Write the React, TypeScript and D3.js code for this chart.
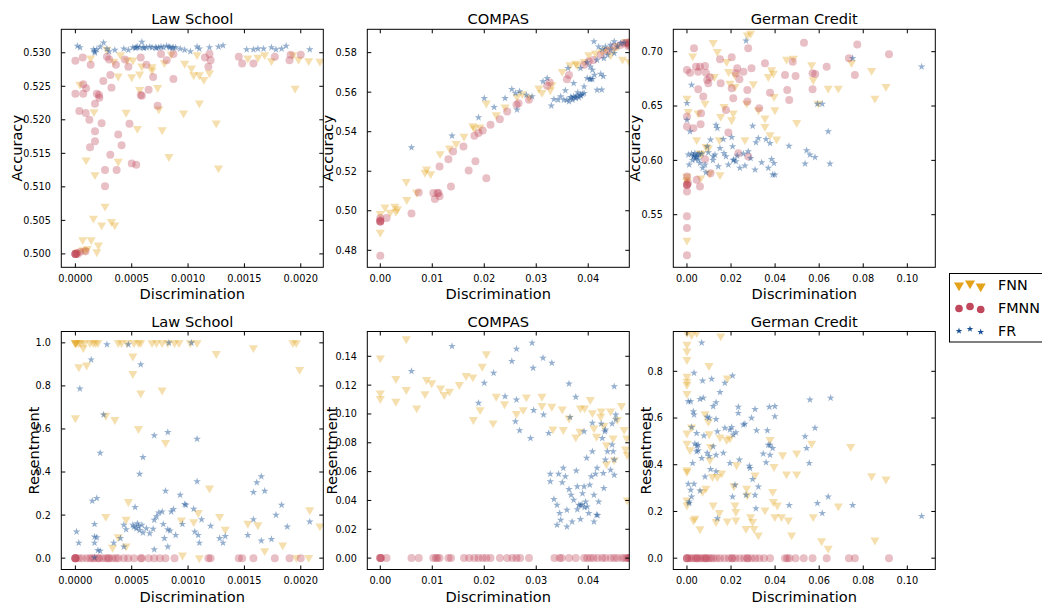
import React from 'react';
import * as d3 from 'd3';

type Pt = [number, number];

// ---------- tick values ----------
const lawXTicks = [0, 0.0005, 0.001, 0.0015, 0.002];
const compasXTicks = [0, 0.01, 0.02, 0.03, 0.04];
const germanXTicks = [0, 0.02, 0.04, 0.06, 0.08, 0.1];
const lawAccYTicks = [0.5, 0.505, 0.51, 0.515, 0.52, 0.525, 0.53];
const compasAccYTicks = [0.48, 0.5, 0.52, 0.54, 0.56, 0.58];
const germanAccYTicks = [0.55, 0.6, 0.65, 0.7];
const lawResYTicks = [0, 0.2, 0.4, 0.6, 0.8, 1.0];
const compasResYTicks = [0, 0.02, 0.04, 0.06, 0.08, 0.1, 0.12, 0.14];
const germanResYTicks = [0, 0.2, 0.4, 0.6, 0.8];

const titles = ['Law School', 'COMPAS', 'German Credit'];
const legendLabels = ['FNN', 'FMNN', 'FR'];

// ---------- Law School: accuracy ----------
const lawAccFNN: Pt[] = [
  [0.000136, 0.5292], [0.00004, 0.5253], [0.000065, 0.5021], [0.00007, 0.5006], [0.000095, 0.514], [0.000106, 0.5008],
  [0.00014, 0.5021], [0.00016, 0.5053], [0.000174, 0.5118], [0.000165, 0.5212], [0.000204, 0.5013], [0.00019, 0.5003],
  [0.000233, 0.5043], [0.000263, 0.5071], [0.00028, 0.5305], [0.00032, 0.5048], [0.00035, 0.5043], [0.00034, 0.5287],
  [0.00038, 0.5138], [0.00038, 0.5265], [0.0004, 0.5297], [0.00045, 0.5211], [0.00046, 0.5289], [0.0005, 0.5264],
  [0.00051, 0.5289], [0.00055, 0.5187], [0.00057, 0.5245], [0.00057, 0.5268], [0.00059, 0.528], [0.00068, 0.5279],
  [0.00068, 0.5274], [0.00073, 0.5248], [0.00074, 0.5216], [0.00077, 0.5185], [0.00079, 0.5285], [0.00083, 0.5145],
  [0.00085, 0.5298], [0.00096, 0.521], [0.00097, 0.5284], [0.00103, 0.5277], [0.00105, 0.5267], [0.00108, 0.5297],
  [0.0011, 0.5267], [0.0011, 0.5225], [0.00114, 0.526], [0.00119, 0.527], [0.00125, 0.5195], [0.00127, 0.5128],
  [0.00153, 0.5292], [0.00162, 0.5293], [0.00168, 0.5297], [0.00174, 0.5288], [0.00193, 0.5297], [0.00195, 0.5247],
  [0.00198, 0.529], [0.00207, 0.5288], [0.00217, 0.5287], [0.00001, 0.5001], [0.00003, 0.5003], [0.00009, 0.5005],
];
const lawAccFMNN: Pt[] = [
  [0, 0.5288], [0, 0.5239], [0, 0.5], [0, 0.5], [0, 0.5], [0, 0.5], [0.00001, 0.5001], [0.00002, 0.5],
  [0.000065, 0.5293], [0.000035, 0.5213], [0.00007, 0.5253], [0.00007, 0.5239], [0.000095, 0.5247], [0.000092, 0.521],
  [0.000124, 0.52], [0.000136, 0.5282], [0.00013, 0.5159], [0.000174, 0.5224], [0.000174, 0.5183], [0.000174, 0.5168],
  [0.00019, 0.5239], [0.00021, 0.5237], [0.000213, 0.5233], [0.000233, 0.5195], [0.000248, 0.5258], [0.000263, 0.5125],
  [0.000263, 0.5101], [0.00028, 0.5294], [0.0003, 0.529], [0.00031, 0.5267], [0.00031, 0.5148], [0.00032, 0.5248],
  [0.00036, 0.5282], [0.000366, 0.5125], [0.00038, 0.5178], [0.00041, 0.5162], [0.00044, 0.529], [0.00047, 0.5279],
  [0.00048, 0.5194], [0.0005, 0.5135], [0.00054, 0.5133], [0.00058, 0.5293], [0.00058, 0.5237], [0.00059, 0.5236],
  [0.00063, 0.5282], [0.00065, 0.5245], [0.00069, 0.5264], [0.00073, 0.5221], [0.00076, 0.5298], [0.00081, 0.5289],
  [0.00087, 0.5298], [0.00087, 0.5261], [0.00115, 0.5293], [0.00118, 0.5279], [0.00119, 0.5298], [0.0012, 0.5289],
  [0.00145, 0.5294], [0.00148, 0.5284], [0.00158, 0.5284], [0.00177, 0.5294], [0.0019, 0.5289], [0.00191, 0.5297],
  [0.002, 0.5297], [0.00004, 0.5003], [0.00009, 0.5004],
];
const lawAccFR: Pt[] = [
  [0.0000178, 0.531], [0.0000414, 0.5308], [0.00016, 0.5305], [0.000174, 0.53], [0.00019, 0.5305], [0.00022, 0.5309],
  [0.00025, 0.5315], [0.00028, 0.5306], [0.00035, 0.5304], [0.00043, 0.5306], [0.00047, 0.5304], [0.00051, 0.5308],
  [0.00054, 0.5308], [0.00057, 0.5308], [0.00059, 0.5316], [0.0006, 0.5308], [0.00063, 0.5308], [0.00068, 0.5308],
  [0.00071, 0.5308], [0.00074, 0.5308], [0.00078, 0.5308], [0.00081, 0.531], [0.00084, 0.5308], [0.00087, 0.5308],
  [0.00093, 0.5306], [0.00097, 0.5304], [0.00102, 0.5302], [0.00108, 0.5309], [0.0011, 0.5306], [0.00119, 0.5308],
  [0.00127, 0.5309], [0.00131, 0.5311], [0.00152, 0.5305], [0.00158, 0.5305], [0.00162, 0.5306], [0.00167, 0.5306],
  [0.00174, 0.5308], [0.00178, 0.5305], [0.00183, 0.5306], [0.00187, 0.531], [0.00208, 0.5305],
  [0.00053, 0.5307], [0.00055, 0.5309], [0.00061, 0.5307], [0.00066, 0.5309], [0.00072, 0.5307], [0.00076, 0.5309],
  [0.00083, 0.5309], [0.00086, 0.5307], [0.00089, 0.5308], [0.0003, 0.5302], [0.00017, 0.5302],
];

// ---------- COMPAS: accuracy ----------
const compasAccFNN: Pt[] = [
  [0, 0.4986], [0, 0.4891], [0.0019, 0.4992], [0.0009, 0.5019], [0.0028, 0.5022], [0.003, 0.4997], [0.0033, 0.5009],
  [0.005, 0.5148], [0.0051, 0.5056], [0.007, 0.5093], [0.0086, 0.5194], [0.0089, 0.5211], [0.0097, 0.5187],
  [0.0115, 0.5288], [0.0133, 0.5317], [0.0146, 0.5339], [0.0161, 0.5376], [0.0178, 0.543], [0.0181, 0.5418],
  [0.0192, 0.5423], [0.0204, 0.5544], [0.0223, 0.5485], [0.024, 0.5524], [0.0263, 0.5578], [0.0273, 0.5591],
  [0.0286, 0.5574], [0.0305, 0.562], [0.0311, 0.5598], [0.0327, 0.5611], [0.033, 0.5637], [0.035, 0.5704],
  [0.0365, 0.5738], [0.0376, 0.5746], [0.0379, 0.5738], [0.0392, 0.5755], [0.0401, 0.5788], [0.0414, 0.5797],
  [0.0427, 0.5805], [0.0435, 0.5817], [0.0443, 0.5788], [0.045, 0.5817], [0.0457, 0.5834], [0.0466, 0.5766],
  [0.0472, 0.5856], [0.0479, 0.5755],
];
const compasAccFMNN: Pt[] = [
  [0, 0.4946], [0, 0.4946], [0, 0.4946], [0, 0.4952], [0, 0.4963], [0.0012, 0.4963], [0, 0.4773], [0.006, 0.4986],
  [0.0074, 0.5092], [0.0102, 0.509], [0.0105, 0.5059], [0.011, 0.509], [0.0112, 0.509], [0.0114, 0.5073],
  [0.0114, 0.5224], [0.0131, 0.5261], [0.0136, 0.5123], [0.014, 0.53], [0.016, 0.5325], [0.017, 0.5204],
  [0.0181, 0.5379], [0.0183, 0.525], [0.0189, 0.5393], [0.0197, 0.5406], [0.0204, 0.5165], [0.0212, 0.5435],
  [0.023, 0.5463], [0.0244, 0.5502], [0.0262, 0.5536], [0.0266, 0.5544], [0.0286, 0.5561], [0.0321, 0.5632],
  [0.0326, 0.5649], [0.0359, 0.5665], [0.0363, 0.5687], [0.0392, 0.5738], [0.0401, 0.5755], [0.041, 0.5763],
  [0.0424, 0.5788], [0.0437, 0.581], [0.045, 0.583], [0.0462, 0.5839], [0.0469, 0.5847], [0.0474, 0.585],
  [0.0477, 0.5834], [0.0478, 0.5845], [0.0479, 0.5852], [0.0479, 0.5838],
];
const compasAccFR: Pt[] = [
  [0.006, 0.532], [0.0138, 0.5379], [0.0189, 0.5472], [0.02, 0.5569], [0.0219, 0.5524], [0.024, 0.5569],
  [0.0253, 0.5615], [0.026, 0.5595], [0.0263, 0.5511], [0.0268, 0.5603], [0.0281, 0.5586], [0.0292, 0.5578],
  [0.0313, 0.5654], [0.0321, 0.567], [0.0329, 0.5531], [0.0334, 0.5564], [0.0342, 0.5561], [0.0347, 0.5578],
  [0.0356, 0.5608], [0.0359, 0.5561], [0.0366, 0.5574], [0.0372, 0.5578], [0.0379, 0.5581], [0.0385, 0.5586],
  [0.0392, 0.5595], [0.0361, 0.5721], [0.0372, 0.5645], [0.0385, 0.5721], [0.0398, 0.575], [0.0398, 0.567],
  [0.0403, 0.5665], [0.0408, 0.5665], [0.0405, 0.5667], [0.0412, 0.5687], [0.0417, 0.5611], [0.0424, 0.5692],
  [0.0429, 0.568], [0.0426, 0.5612], [0.0411, 0.5856], [0.042, 0.583], [0.0427, 0.5817], [0.0433, 0.583],
  [0.0443, 0.5839], [0.045, 0.5856], [0.0456, 0.583], [0.0462, 0.5847], [0.0469, 0.585], [0.0443, 0.5814],
  [0.045, 0.5797], [0.0437, 0.5788], [0.043, 0.5771], [0.0417, 0.5763], [0.0404, 0.5729], [0.0408, 0.5712],
  [0.0392, 0.5628], [0.0382, 0.5573], [0.0376, 0.5569], [0.037, 0.5561], [0.0363, 0.5553], [0.0353, 0.5561],
  [0.0389, 0.5591], [0.038, 0.5598], [0.0375, 0.5576], [0.0368, 0.5572], [0.0386, 0.5582],
];

// ---------- German Credit: accuracy ----------
const germanAccFNN: Pt[] = [
  [0, 0.5264], [0, 0.5852], [0, 0.5806], [0, 0.5822], [0, 0.6571], [0.0006, 0.6449], [0.0026, 0.696], [0.0044, 0.6189],
  [0.0051, 0.6434], [0.0059, 0.6066], [0.0067, 0.606], [0.0062, 0.5837], [0.0082, 0.6525], [0.0086, 0.6127],
  [0.0097, 0.6112], [0.0104, 0.5882], [0.0119, 0.7083], [0.0124, 0.677], [0.0138, 0.7], [0.0147, 0.6189],
  [0.015, 0.5867], [0.0153, 0.6403], [0.0168, 0.6495], [0.018, 0.6908], [0.0189, 0.6816], [0.0195, 0.6709],
  [0.0203, 0.6372], [0.021, 0.6434], [0.0218, 0.6786], [0.0218, 0.6679], [0.0263, 0.6189], [0.0271, 0.6525],
  [0.0274, 0.7153], [0.0289, 0.7168], [0.0301, 0.6703], [0.0324, 0.6464], [0.0354, 0.6388], [0.0354, 0.6311],
  [0.0369, 0.677], [0.0384, 0.6832], [0.0392, 0.6801], [0.0395, 0.6587], [0.0399, 0.6464], [0.0377, 0.6235],
  [0.0407, 0.6195], [0.0452, 0.693], [0.0483, 0.6939], [0.0498, 0.6348], [0.0566, 0.6878], [0.0573, 0.674],
  [0.0596, 0.6525], [0.0641, 0.6663], [0.0687, 0.6663], [0.0747, 0.6899], [0.0838, 0.6826], [0.0853, 0.6571],
  [0.0903, 0.6679],
];
const germanAccFMNN: Pt[] = [
  [0, 0.6832], [0, 0.6403], [0, 0.6311], [0, 0.5852], [0, 0.5776], [0, 0.5776], [0, 0.5776], [0.0005, 0.579],
  [0, 0.5714], [0, 0.5485], [0, 0.5378], [0, 0.5127], [0.0014, 0.6807], [0.0029, 0.6296], [0.0032, 0.7031],
  [0.0041, 0.6862], [0.0051, 0.6816], [0.0051, 0.6654], [0.0059, 0.6862], [0.0062, 0.6333], [0.0064, 0.6434],
  [0.0074, 0.6587], [0.0082, 0.6868], [0.0086, 0.6807], [0.0092, 0.674], [0.0097, 0.6709], [0.0104, 0.6764],
  [0.0107, 0.5882], [0.0082, 0.6011], [0.0044, 0.5821], [0.0059, 0.576], [0.015, 0.693], [0.0153, 0.6709],
  [0.0177, 0.6464], [0.0188, 0.6256], [0.0203, 0.6948], [0.0203, 0.6663], [0.021, 0.6571], [0.0222, 0.6801],
  [0.0228, 0.6847], [0.0238, 0.6746], [0.0233, 0.6066], [0.0256, 0.6816], [0.0274, 0.6541], [0.0274, 0.6648],
  [0.0278, 0.7031], [0.0278, 0.6035], [0.0293, 0.6847], [0.0328, 0.648], [0.0354, 0.6893], [0.0377, 0.6623],
  [0.0445, 0.6786], [0.0455, 0.6648], [0.0464, 0.6556], [0.048, 0.6908], [0.0493, 0.6777], [0.0531, 0.7083],
  [0.057, 0.6801], [0.057, 0.6654], [0.0582, 0.6795], [0.0634, 0.6862], [0.0735, 0.6939], [0.0762, 0.6786],
  [0.0773, 0.7067], [0.0917, 0.6976],
];
const germanAccFR: Pt[] = [
  [0.0268, 0.7101], [0.0021, 0.6694], [0, 0.6526], [0, 0.6372], [0.0014, 0.6265], [0.0006, 0.6051], [0.001, 0.5959],
  [0.0021, 0.606], [0.0029, 0.6036], [0.0036, 0.6066], [0.0041, 0.6036], [0.0048, 0.6051], [0.0051, 0.6005],
  [0.0059, 0.5974], [0.0067, 0.606], [0.0071, 0.5929], [0.0082, 0.5959], [0.0086, 0.5889], [0.0092, 0.6127],
  [0.0097, 0.6072], [0.0107, 0.6189], [0.0119, 0.6036], [0.0127, 0.6051], [0.0132, 0.6326], [0.0138, 0.6296],
  [0.0142, 0.5944], [0.015, 0.6112], [0.0165, 0.6195], [0.0168, 0.6066], [0.0177, 0.6036], [0.0188, 0.5959],
  [0.0203, 0.6213], [0.0207, 0.6127], [0.0213, 0.6005], [0.0222, 0.599], [0.0228, 0.6042], [0.024, 0.5929],
  [0.0256, 0.606], [0.0263, 0.595], [0.0278, 0.6082], [0.0289, 0.602], [0.0298, 0.6317], [0.0309, 0.5913],
  [0.0313, 0.6164], [0.0324, 0.6204], [0.0339, 0.5981], [0.0359, 0.6195], [0.0369, 0.5929], [0.0377, 0.6158],
  [0.0384, 0.6011], [0.0395, 0.5974], [0.0389, 0.5867], [0.0399, 0.5867], [0.0463, 0.6133], [0.0536, 0.5969],
  [0.0543, 0.6091], [0.0558, 0.6051], [0.0581, 0.6029], [0.0592, 0.6519], [0.0614, 0.6519], [0.0641, 0.6265],
  [0.0649, 0.5969], [0.0752, 0.6939], [0.1065, 0.6862], [0.0031, 0.6045], [0.0044, 0.6028], [0.0055, 0.6058],
  [0.0038, 0.6012], [0.0025, 0.6002], [0.021, 0.6002], [0.0118, 0.6002],
];

// ---------- Law School: resentment ----------
const lawResFNN: Pt[] = [
  [0, 1.0], [0, 1.0], [0, 1.0], [0.00001, 1.0], [0.00003, 1.0], [0.00005, 1.0], [0.00008, 1.0], [0.00013, 1.0],
  [0.00016, 1.0], [0.00018, 1.0], [0.0002, 1.0], [0.00038, 1.0], [0.00041, 1.0], [0.00046, 1.0], [0.00052, 1.0],
  [0.00056, 1.0], [0.00058, 1.0], [0.00068, 1.0], [0.00072, 1.0], [0.00077, 1.0], [0.00082, 1.0], [0.00088, 1.0],
  [0.00092, 1.0], [0.00102, 1.0], [0.00108, 1.0], [0.00193, 1.0], [0.00196, 1.0],
  [0.00003, 0.888], [0.0001, 0.896], [0.00007, 0.977], [0, 0.651], [0.00051, 0.938], [0.00051, 0.857],
  [0.00058, 0.767], [0.00056, 0.601], [0.00035, 0.643], [0.00027, 0.663], [0.00077, 0.78], [0.0008, 0.537],
  [0.00125, 0.95], [0.00158, 0.977], [0.00199, 0.876], [0.00027, 0.193], [0.00047, 0.262], [0.00045, 0.18],
  [0.00033, 0.05], [0.00038, 0.099], [0.00094, 0.177], [0.00095, 0.014], [0.00105, 0.169], [0.00109, 0.211],
  [0.0011, 0.001], [0.00119, 0.325], [0.00128, 0.193], [0.00133, 0.134], [0.00153, 0.161], [0.00162, 0.154],
  [0.00168, 0.034], [0.00184, 0.061], [0.00196, 0.003], [0.00207, 0.003], [0.00208, 0.224], [0.00217, 0.149],
  [0.00045, 0.056],
];
const lawResFMNN: Pt[] = [
  [0, 0], [0, 0], [0, 0], [0, 0], [0, 0], [0.00003, 0], [0.00006, 0], [0.0001, 0], [0.00013, 0], [0.00017, 0],
  [0.0002, 0], [0.00024, 0], [0.00027, 0], [0.0003, 0], [0.00033, 0], [0.00038, 0], [0.00043, 0], [0.00047, 0],
  [0.00052, 0], [0.00058, 0], [0.00065, 0], [0.0007, 0], [0.00075, 0], [0.0008, 0], [0.00088, 0], [0.00118, 0],
  [0.0012, 0], [0.00145, 0], [0.00148, 0], [0.00158, 0], [0.00177, 0], [0.0019, 0], [0.002, 0], [0.00015, 0],
  [0.00021, 0], [0.00029, 0], [0.00036, 0], [0.00059, 0],
];
const lawResFR: Pt[] = [
  [0.00028, 0.992], [0.00047, 0.992], [0.00083, 1.0], [0.00103, 1.0], [0.00014, 0.922], [0.00004, 0.787],
  [0.00058, 0.899], [0.00025, 0.666], [0.0007, 0.57], [0.00082, 0.585], [0.00108, 0.553], [0.00022, 0.488],
  [0.0006, 0.469], [0.00057, 0.391], [0.00108, 0.356], [0.00158, 0.306], [0.00161, 0.351], [0.00165, 0.379],
  [0.00168, 0.312], [0.00015, 0.266], [0.00019, 0.278], [0.0008, 0.312], [0.00093, 0.293], [0.00097, 0.25],
  [0.00105, 0.228], [0.00112, 0.18], [0.0012, 0.149], [0.00001, 0.123], [0.00003, 0.071], [0.00017, 0.158],
  [0.00017, 0.099], [0.00019, 0.096], [0.00017, 0.071], [0.0002, 0.037], [0.00022, 0.033], [0.00017, 0.003],
  [0.00034, 0.071], [0.0004, 0.092], [0.00043, 0.154], [0.00043, 0.053], [0.00045, 0.133], [0.00051, 0.154],
  [0.00053, 0.236], [0.00054, 0.138], [0.00055, 0.161], [0.00057, 0.13], [0.00052, 0.145], [0.00056, 0.148],
  [0.00059, 0.154], [0.0006, 0.118], [0.00063, 0.138], [0.00066, 0.115], [0.00069, 0.135], [0.0007, 0.04],
  [0.0007, 0.177], [0.00072, 0.193], [0.00074, 0.211], [0.00077, 0.216], [0.00078, 0.158], [0.00079, 0.092],
  [0.00082, 0.053], [0.00082, 0.133], [0.00084, 0.127], [0.00085, 0.216], [0.00087, 0.227], [0.00089, 0.107],
  [0.00095, 0.158], [0.00098, 0.247], [0.00106, 0.123], [0.00109, 0.107], [0.0011, 0.071], [0.00128, 0.092],
  [0.00131, 0.071], [0.00133, 0.102], [0.00153, 0.107], [0.00158, 0.18], [0.00165, 0.081], [0.00174, 0.088],
  [0.00178, 0.2], [0.00183, 0.247], [0.00188, 0.146], [0.00208, 0.169],
];

// ---------- COMPAS: resentment ----------
const compasResFNN: Pt[] = [
  [0, 0.1388], [0, 0.1145], [0, 0.1106], [0.005, 0.152], [0.003, 0.1087], [0.003, 0.1245], [0.005, 0.1168],
  [0.007, 0.1041], [0.0086, 0.114], [0.0089, 0.1238], [0.0099, 0.1215], [0.0116, 0.118], [0.0123, 0.1134],
  [0.0133, 0.1157], [0.0152, 0.1203], [0.0165, 0.1266], [0.0178, 0.1256], [0.0179, 0.096], [0.0192, 0.1029],
  [0.0196, 0.133], [0.0204, 0.1416], [0.0217, 0.0937], [0.0223, 0.1122], [0.0239, 0.107], [0.0262, 0.1003],
  [0.0275, 0.1029], [0.0281, 0.1117], [0.0311, 0.1122], [0.0311, 0.1057], [0.033, 0.1052], [0.0332, 0.0895],
  [0.035, 0.1034], [0.0352, 0.0891], [0.0363, 0.0971], [0.0376, 0.084], [0.0384, 0.0879], [0.0385, 0.1041],
  [0.0393, 0.1041], [0.0404, 0.1099], [0.0411, 0.0902], [0.0408, 0.1008], [0.0416, 0.0844], [0.0425, 0.102],
  [0.0424, 0.0983], [0.043, 0.0919], [0.0435, 0.0786], [0.0435, 0.0654], [0.0443, 0.102], [0.0448, 0.0833],
  [0.0456, 0.0961], [0.045, 0.0682], [0.0464, 0.1057], [0.0469, 0.0891], [0.0472, 0.0756], [0.0474, 0.0833],
  [0.0475, 0.0403], [0.0475, 0.0717],
];
const compasResFMNN: Pt[] = [
  [0, 0], [0, 0], [0, 0], [0.0002, 0], [0.0012, 0], [0.006, 0], [0.0074, 0], [0.0102, 0], [0.0107, 0],
  [0.011, 0], [0.0114, 0], [0.0131, 0], [0.0136, 0], [0.0161, 0], [0.0171, 0], [0.0181, 0], [0.0189, 0],
  [0.0197, 0], [0.0204, 0], [0.0212, 0], [0.023, 0], [0.0244, 0], [0.0254, 0], [0.0262, 0], [0.0269, 0],
  [0.0286, 0], [0.0335, 0], [0.0345, 0], [0.0349, 0], [0.0363, 0], [0.0376, 0], [0.0392, 0], [0.0398, 0],
  [0.0404, 0], [0.041, 0], [0.0418, 0], [0.0427, 0], [0.0433, 0], [0.0443, 0], [0.045, 0], [0.0456, 0],
  [0.0465, 0], [0.047, 0], [0.0475, 0], [0.0478, 0], [0.048, 0], [0.0479, 0],
];
const compasResFR: Pt[] = [
  [0.006, 0.1296], [0.0138, 0.147], [0.0189, 0.1076], [0.02, 0.1215], [0.0218, 0.1284], [0.024, 0.1122],
  [0.0253, 0.1365], [0.0262, 0.1451], [0.026, 0.0948], [0.0262, 0.1099], [0.0268, 0.0886], [0.0289, 0.0832],
  [0.0292, 0.1493], [0.0294, 0.1319], [0.0295, 0.1025], [0.0313, 0.1388], [0.0314, 0.0994], [0.033, 0.1354],
  [0.0324, 0.0867], [0.0327, 0.0584], [0.0327, 0.0531], [0.0334, 0.0408], [0.034, 0.0368], [0.0343, 0.0584],
  [0.0345, 0.0311], [0.0347, 0.0264], [0.035, 0.0524], [0.0352, 0.0625], [0.034, 0.023], [0.0356, 0.0566],
  [0.0359, 0.0218], [0.0363, 0.0477], [0.0363, 0.121], [0.0365, 0.0978], [0.0359, 0.0334], [0.0367, 0.0438],
  [0.0369, 0.0253], [0.0372, 0.0403], [0.0376, 0.1117], [0.0377, 0.0606], [0.0379, 0.0496], [0.0379, 0.0338],
  [0.0382, 0.0368], [0.0385, 0.0269], [0.0389, 0.0449], [0.0392, 0.0878], [0.0392, 0.0496], [0.0395, 0.0391],
  [0.0397, 0.0694], [0.0398, 0.0357], [0.0401, 0.0311], [0.0403, 0.0508], [0.0406, 0.0566], [0.0408, 0.074],
  [0.0408, 0.0937], [0.0411, 0.0438], [0.0411, 0.0253], [0.0414, 0.0584], [0.0417, 0.0625], [0.042, 0.0391],
  [0.0416, 0.03], [0.0418, 0.0298], [0.0425, 0.0932], [0.0427, 0.0832], [0.0429, 0.0589], [0.043, 0.0485],
  [0.0433, 0.0682], [0.0437, 0.074], [0.0443, 0.0612], [0.0446, 0.0932], [0.0448, 0.074], [0.045, 0.1191],
  [0.0453, 0.0994], [0.045, 0.0682], [0.0453, 0.0961], [0.0446, 0.0786], [0.0433, 0.089], [0.045, 0.0577],
  [0.0432, 0.0878], [0.0385, 0.0365], [0.0388, 0.0372], [0.0393, 0.0352],
];

// ---------- German Credit: resentment ----------
const germanResFNN: Pt[] = [
  [0, 0.965], [0, 0.915], [0, 0.886], [0, 0.85], [0, 0.778], [0, 0.757], [0, 0.743], [0, 0.704], [0, 0.535],
  [0, 0.492], [0, 0.378], [0, 0.371], [0, 0.249], [0, 0.227], [0.0021, 0.957], [0.0044, 0.965], [0.0153, 0.951],
  [0.01, 0.824], [0.0014, 0.464], [0.0021, 0.561], [0.0029, 0.163], [0.0036, 0.17], [0.0059, 0.125], [0.0071, 0.285],
  [0.0082, 0.618], [0.0086, 0.299], [0.0097, 0.585], [0.0101, 0.532], [0.0107, 0.478], [0.0104, 0.421],
  [0.0116, 0.349], [0.0119, 0.227], [0.0132, 0.156], [0.0138, 0.349], [0.0147, 0.195], [0.015, 0.518],
  [0.0157, 0.364], [0.0183, 0.771], [0.018, 0.507], [0.0183, 0.159], [0.0195, 0.514], [0.0213, 0.309],
  [0.0218, 0.227], [0.0222, 0.199], [0.0222, 0.163], [0.0225, 0.399], [0.0271, 0.299], [0.0274, 0.27],
  [0.0268, 0.127], [0.0289, 0.177], [0.0298, 0.156], [0.0304, 0.127], [0.0309, 0.356], [0.0324, 0.099],
  [0.0354, 0.206], [0.0377, 0.507], [0.0389, 0.285], [0.0392, 0.242], [0.0395, 0.392], [0.0399, 0.177],
  [0.041, 0.227], [0.0429, 0.177], [0.0434, 0.442], [0.0452, 0.36], [0.046, 0.163], [0.0475, 0.099],
  [0.0498, 0.36], [0.0498, 0.45], [0.0566, 0.492], [0.0573, 0.177], [0.0611, 0.074], [0.0641, 0.042],
  [0.0687, 0.223], [0.0743, 0.478], [0.0838, 0.352], [0.0853, 0.077], [0.0903, 0.338],
];
const germanResFMNN: Pt[] = [
  [0, 0], [0, 0], [0, 0], [0.001, 0], [0.002, 0], [0.003, 0], [0.004, 0], [0.005, 0], [0.006, 0], [0.007, 0],
  [0.008, 0], [0.009, 0], [0.01, 0], [0.011, 0], [0.012, 0], [0.0135, 0], [0.015, 0], [0.017, 0], [0.019, 0],
  [0.0205, 0], [0.022, 0], [0.024, 0], [0.026, 0], [0.0275, 0], [0.0293, 0], [0.031, 0], [0.0328, 0], [0.035, 0],
  [0.0377, 0], [0.0445, 0], [0.0455, 0], [0.0465, 0], [0.0493, 0], [0.053, 0], [0.057, 0], [0.0634, 0],
  [0.0735, 0], [0.0762, 0], [0.0917, 0], [0.0045, 0], [0.0085, 0], [0.0205, 0], [0.0275, 0],
];
const germanResFR: Pt[] = [
  [0.0067, 0.922], [0.0032, 0.793], [0.0071, 0.76], [0.0112, 0.767], [0.0172, 0.75], [0.0207, 0.781],
  [0.0006, 0.671], [0.0017, 0.671], [0.0059, 0.681], [0.0074, 0.686], [0.0119, 0.65], [0.0132, 0.667],
  [0.015, 0.71], [0.0029, 0.628], [0.0032, 0.614], [0.0092, 0.604], [0.0132, 0.595], [0.0233, 0.647],
  [0.0233, 0.621], [0.0263, 0.575], [0.0293, 0.6], [0.0309, 0.638], [0.0021, 0.561], [0.0044, 0.535],
  [0.0077, 0.524], [0.0101, 0.6], [0.0138, 0.542], [0.0172, 0.557], [0.0195, 0.55], [0.021, 0.528],
  [0.0203, 0.561], [0.0222, 0.538], [0.0256, 0.571], [0.0316, 0.547], [0.0365, 0.547], [0.0374, 0.647],
  [0.0389, 0.471], [0.0399, 0.65], [0.0399, 0.607], [0.0377, 0.485], [0.0036, 0.49], [0.0044, 0.481],
  [0.0051, 0.485], [0.0044, 0.457], [0.0051, 0.461], [0.0067, 0.428], [0.0092, 0.45], [0.0101, 0.436],
  [0.0119, 0.478], [0.0132, 0.442], [0.0165, 0.45], [0.0195, 0.407], [0.0132, 0.371], [0.0107, 0.381],
  [0.0082, 0.349], [0.0026, 0.407], [0.0006, 0.318], [0.0032, 0.318], [0.0017, 0.292], [0.0021, 0.263],
  [0.001, 0.242], [0.001, 0.235], [0.0059, 0.289], [0.0138, 0.17], [0.0207, 0.263], [0.0218, 0.313],
  [0.0238, 0.421], [0.0283, 0.395], [0.0286, 0.385], [0.0298, 0.338], [0.0309, 0.27], [0.0313, 0.213],
  [0.0324, 0.306], [0.0346, 0.447], [0.0359, 0.41], [0.0369, 0.485], [0.0377, 0.442], [0.0268, 0.27],
  [0.0536, 0.521], [0.0543, 0.471], [0.0555, 0.407], [0.0558, 0.678], [0.0581, 0.557], [0.0592, 0.235],
  [0.0614, 0.192], [0.0641, 0.263], [0.0652, 0.686], [0.0752, 0.227], [0.1065, 0.18], [0.0464, 0.227],
];

// ---------- styling ----------
const FONT = 'DejaVu Sans, sans-serif';
const seriesStyle = [
  { color: '#E3A21A', symbol: d3.symbolTriangle, size: 36, rotate: 180, alpha: 0.35, legendSize: 44 },
  { color: '#C0475C', symbol: d3.symbolCircle, size: 50, rotate: 0, alpha: 0.35, legendSize: 46 },
  { color: '#174F94', symbol: d3.symbolStar, size: 18, rotate: 0, alpha: 0.45, legendSize: 14 },
];

const PW = 262;
const PH = 238;
const colLeft = [61.3, 367.3, 673.3];
const rowTop = [29.3, 331.5];

type PanelDef = {
  row: number; col: number; title: string;
  xDomain: [number, number]; yDomain: [number, number];
  xTicks: number[]; yTicks: number[]; xFmt: string; yFmt: string;
  ylabel: string; ylabelOffset: number;
  series: Pt[][];
};

const panels: PanelDef[] = [
  { row: 0, col: 0, title: titles[0], xDomain: [-0.000125, 0.0022], yDomain: [0.498, 0.5335], xTicks: lawXTicks, yTicks: lawAccYTicks, xFmt: '.4f', yFmt: '.3f', ylabel: 'Accuracy', ylabelOffset: 44.5, series: [lawAccFNN, lawAccFMNN, lawAccFR] },
  { row: 0, col: 1, title: titles[1], xDomain: [-0.0025, 0.0479], yDomain: [0.4714, 0.5918], xTicks: compasXTicks, yTicks: compasAccYTicks, xFmt: '.2f', yFmt: '.2f', ylabel: 'Accuracy', ylabelOffset: 39.5, series: [compasAccFNN, compasAccFMNN, compasAccFR] },
  { row: 0, col: 2, title: titles[2], xDomain: [-0.0062, 0.1127], yDomain: [0.5016, 0.7206], xTicks: germanXTicks, yTicks: germanAccYTicks, xFmt: '.2f', yFmt: '.2f', ylabel: 'Accuracy', ylabelOffset: 38.5, series: [germanAccFNN, germanAccFMNN, germanAccFR] },
  { row: 1, col: 0, title: titles[0], xDomain: [-0.000125, 0.0022], yDomain: [-0.0527, 1.0527], xTicks: lawXTicks, yTicks: lawResYTicks, xFmt: '.4f', yFmt: '.1f', ylabel: 'Resentment', ylabelOffset: 28, series: [lawResFNN, lawResFMNN, lawResFR] },
  { row: 1, col: 1, title: titles[1], xDomain: [-0.0025, 0.0479], yDomain: [-0.0079, 0.1572], xTicks: compasXTicks, yTicks: compasResYTicks, xFmt: '.2f', yFmt: '.2f', ylabel: 'Resentment', ylabelOffset: 35.5, series: [compasResFNN, compasResFMNN, compasResFR] },
  { row: 1, col: 2, title: titles[2], xDomain: [-0.0062, 0.1127], yDomain: [-0.0485, 0.9705], xTicks: germanXTicks, yTicks: germanResYTicks, xFmt: '.2f', yFmt: '.1f', ylabel: 'Resentment', ylabelOffset: 28, series: [germanResFNN, germanResFMNN, germanResFR] },
];

function Panel({ p, idx }: { p: PanelDef; idx: number }) {
  const left = colLeft[p.col];
  const top = rowTop[p.row];
  const x = d3.scaleLinear().domain(p.xDomain).range([0, PW]);
  const y = d3.scaleLinear().domain(p.yDomain).range([PH, 0]);
  const fx = d3.format(p.xFmt);
  const fy = d3.format(p.yFmt);
  const clipId = `clip-${idx}`;
  const tl = 4;
  return (
    <g transform={`translate(${left},${top})`}>
      <defs>
        <clipPath id={clipId}><rect x={0} y={0} width={PW} height={PH} /></clipPath>
      </defs>
      <g clipPath={`url(#${clipId})`}>
        {p.series.map((pts, si) => {
          const st = seriesStyle[si];
          const path = d3.symbol().type(st.symbol).size(st.size)() as string;
          return (
            <g key={si}>
              {pts.map((d, i) => (
                <path key={i} d={path}
                  transform={`translate(${x(d[0])},${y(d[1])})${st.rotate ? ` rotate(${st.rotate})` : ''}`}
                  fill={st.color} fillOpacity={st.alpha} stroke="none" />
              ))}
            </g>
          );
        })}
      </g>
      <rect x={0} y={0} width={PW} height={PH} fill="none" stroke="#000" strokeWidth={1} />
      {p.xTicks.map((t) => (
        <g key={`xt${t}`}>
          <line x1={x(t)} x2={x(t)} y1={PH} y2={PH - tl} stroke="#000" />
          <line x1={x(t)} x2={x(t)} y1={0} y2={tl} stroke="#000" />
          <text x={x(t)} y={PH + 14.5} textAnchor="middle" fontSize={9.8} fontFamily={FONT} fill="#000">{fx(t)}</text>
        </g>
      ))}
      {p.yTicks.map((t) => (
        <g key={`yt${t}`}>
          <line x1={0} x2={tl} y1={y(t)} y2={y(t)} stroke="#000" />
          <line x1={PW} x2={PW - tl} y1={y(t)} y2={y(t)} stroke="#000" />
          <text x={-10.5} y={y(t)} dy="0.36em" textAnchor="end" fontSize={9.6} fontFamily={FONT} fill="#000">{fy(t)}</text>
        </g>
      ))}
      <text x={PW / 2} y={-5} textAnchor="middle" fontSize={14.6} fontFamily={FONT} fill="#000">{p.title}</text>
      <text x={PW / 2} y={PH + 32} textAnchor="middle" fontSize={14.6} fontFamily={FONT} fill="#000">Discrimination</text>
      <text transform={`translate(${-p.ylabelOffset},${PH / 2}) rotate(-90)`} dy="0.36em" textAnchor="middle" fontSize={14.6} fontFamily={FONT} fill="#000">{p.ylabel}</text>
    </g>
  );
}

function Legend() {
  const rowsY = [285, 308, 330.5];
  const markerX = [959, 970, 980.7];
  const yOff = [0.5, -1.5, 1.5];
  return (
    <g>
      <rect x={949.5} y={273.5} width={120} height={68.5} fill="#fff" stroke="#000" strokeWidth={1} />
      {legendLabels.map((lab, si) => {
        const st = seriesStyle[si];
        const path = d3.symbol().type(st.symbol).size(st.legendSize)() as string;
        return (
          <g key={lab}>
            {markerX.map((mx, k) => (
              <path key={k} d={path}
                transform={`translate(${mx},${rowsY[si] + yOff[k]})${st.rotate ? ` rotate(${st.rotate})` : ''}`}
                fill={st.color} />
            ))}
            <text x={998} y={rowsY[si]} dy="0.36em" fontSize={14.3} fontFamily={FONT} fill="#000">{lab}</text>
          </g>
        );
      })}
    </g>
  );
}

export default function App() {
  return (
    <svg width={1042} height={607} style={{ position: 'absolute', left: 0, top: 0, background: '#fff' }}>
      <rect x={0} y={0} width={1042} height={607} fill="#fff" />
      {panels.map((p, i) => <Panel key={i} p={p} idx={i} />)}
      <Legend />
    </svg>
  );
}
